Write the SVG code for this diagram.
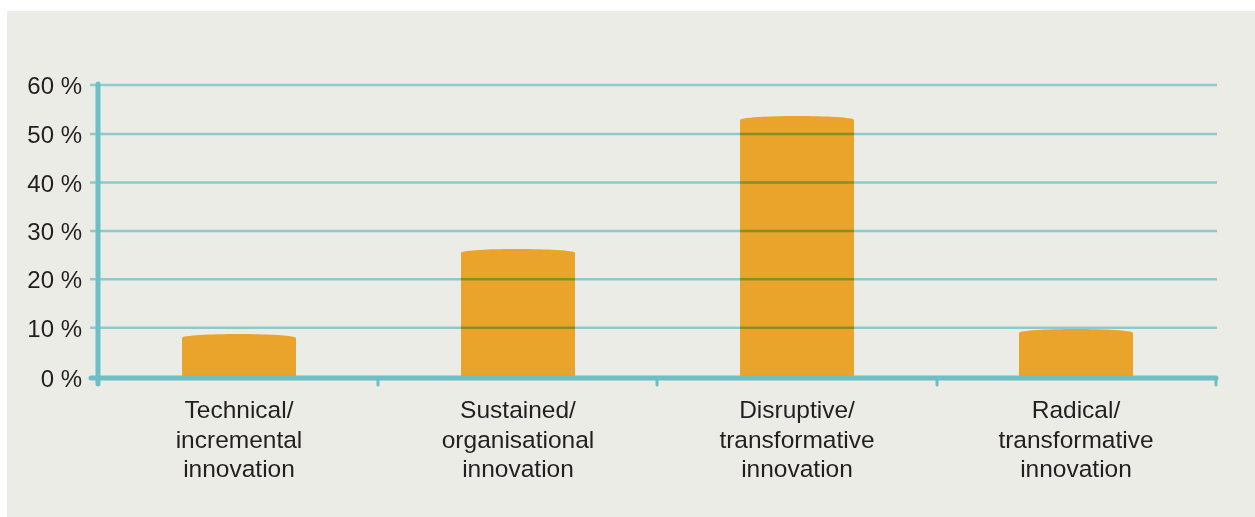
<svg xmlns="http://www.w3.org/2000/svg" width="1255" height="517" viewBox="0 0 1255 517">
<style>
.ylab{font-family:"Liberation Sans",Arial,sans-serif;font-size:24px;fill:#231f20;text-anchor:end}
.xlab{font-family:"Liberation Sans",Arial,sans-serif;font-size:24.5px;fill:#231f20;text-anchor:middle}
.grid{stroke:#99d9e2;stroke-width:2.6;mix-blend-mode:multiply;fill:none}
.bar{fill:#eaa42b}
.axis{stroke:#6dbec5;stroke-width:5;stroke-linecap:round;fill:none}
.tick{stroke:#6dbec5;stroke-width:3;stroke-linecap:round;fill:none}
</style>
<rect x="0" y="0" width="1255" height="517" fill="#ffffff"/>
<rect x="7" y="11" width="1248" height="506" fill="#ecece6"/>
<g id="bars">
<path id="bar-technical" class="bar" d="M182,378 V338 C182,332.7 296,332.7 296,338 V378 Z"/>
<path id="bar-sustained" class="bar" d="M461,378 V253 C461,247.7 575,247.7 575,253 V378 Z"/>
<path id="bar-disruptive" class="bar" d="M740,378 V120 C740,114.7 854,114.7 854,120 V378 Z"/>
<path id="bar-radical" class="bar" d="M1019,378 V333 C1019,327.7 1133,327.7 1133,333 V378 Z"/>
</g>
<g id="gridlines">
<line class="grid" x1="90" y1="85" x2="1217" y2="85"/>
<line class="grid" x1="90" y1="134" x2="1217" y2="134"/>
<line class="grid" x1="90" y1="182.5" x2="1217" y2="182.5"/>
<line class="grid" x1="90" y1="231" x2="1217" y2="231"/>
<line class="grid" x1="90" y1="279.3" x2="1217" y2="279.3"/>
<line class="grid" x1="90" y1="327.7" x2="1217" y2="327.7"/>
</g>
<g id="axes">
<line class="axis" x1="98" y1="84" x2="98" y2="384"/>
<line class="axis" x1="91" y1="378" x2="1216" y2="378"/>
<line class="tick" x1="378" y1="378" x2="378" y2="385"/>
<line class="tick" x1="657" y1="378" x2="657" y2="385"/>
<line class="tick" x1="937" y1="378" x2="937" y2="385"/>
<line class="tick" x1="1216" y1="378" x2="1216" y2="385"/>
</g>
<g id="y-labels">
<text class="ylab" x="82" y="94">60 %</text>
<text class="ylab" x="82" y="143">50 %</text>
<text class="ylab" x="82" y="191.5">40 %</text>
<text class="ylab" x="82" y="240">30 %</text>
<text class="ylab" x="82" y="288.3">20 %</text>
<text class="ylab" x="82" y="336.7">10 %</text>
<text class="ylab" x="82" y="387">0 %</text>
</g>
<g id="x-labels">
<text class="xlab" x="239" y="418">Technical/</text>
<text class="xlab" x="239" y="447.5">incremental</text>
<text class="xlab" x="239" y="477">innovation</text>
<text class="xlab" x="518" y="418">Sustained/</text>
<text class="xlab" x="518" y="447.5">organisational</text>
<text class="xlab" x="518" y="477">innovation</text>
<text class="xlab" x="797" y="418">Disruptive/</text>
<text class="xlab" x="797" y="447.5">transformative</text>
<text class="xlab" x="797" y="477">innovation</text>
<text class="xlab" x="1076" y="418">Radical/</text>
<text class="xlab" x="1076" y="447.5">transformative</text>
<text class="xlab" x="1076" y="477">innovation</text>
</g>
</svg>
